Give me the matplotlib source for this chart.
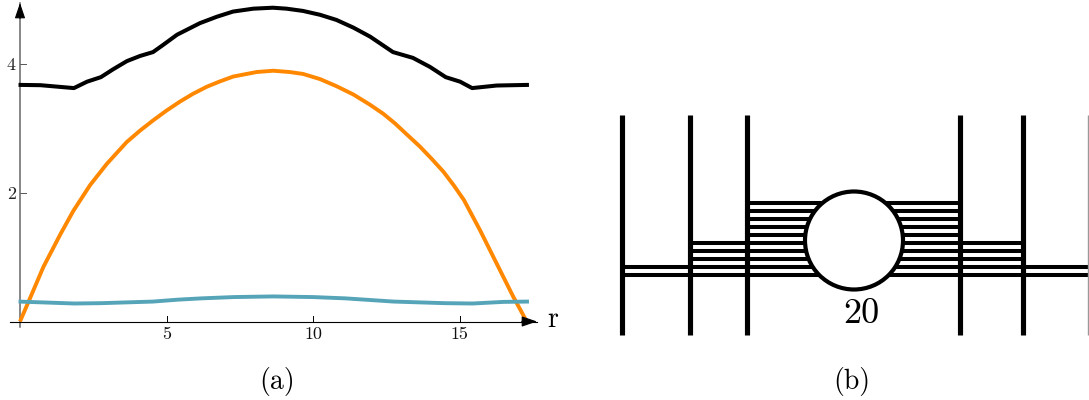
import numpy as np
import matplotlib
matplotlib.use('Agg')
import matplotlib.pyplot as plt
from matplotlib.patches import Circle

W, H = 1089, 400

# panel (a)
r_black = [-0.05, 0.7, 1.84, 2.29, 2.76, 3.17, 3.65, 4.10, 4.54, 4.88, 5.36, 6.14, 6.72, 7.27, 7.96, 8.63,
           9.1, 9.66, 10.24, 10.8, 11.38, 11.95, 12.73, 13.41, 13.99, 14.53, 15.02, 15.43, 16.27, 17.37]
y_black = [3.68, 3.675, 3.63, 3.73, 3.80, 3.92, 4.05, 4.13, 4.19, 4.30, 4.46, 4.64, 4.74, 4.82, 4.865, 4.88,
           4.865, 4.83, 4.77, 4.69, 4.57, 4.43, 4.19, 4.10, 3.96, 3.80, 3.73, 3.63, 3.67, 3.68]

r_orange = [0, 0.34, 0.80, 1.37, 1.82, 2.39, 2.96, 3.64, 4.10, 4.55, 5.0, 5.46, 5.9, 6.37, 6.8, 7.28, 8.08, 8.64,
            9.2, 9.66, 10.24, 10.8, 11.38, 11.95, 12.4, 12.8, 13.2, 13.65, 14.05, 14.45, 14.8, 15.15, 15.7, 16.27, 16.83, 17.27]
y_orange = [0, 0.36, 0.85, 1.35, 1.72, 2.12, 2.45, 2.79, 2.97, 3.13, 3.28, 3.42, 3.54, 3.65, 3.73, 3.81, 3.88, 3.90,
            3.88, 3.85, 3.77, 3.66, 3.53, 3.37, 3.23, 3.08, 2.91, 2.72, 2.53, 2.33, 2.12, 1.89, 1.42, 0.90, 0.39, 0.02]

r_teal = [-0.05, 1.85, 2.76, 4.54, 5.4, 6.2, 7.3, 8.64, 10.0, 11.1, 12.75, 14.5, 15.45, 16.5, 17.37]
y_teal = [0.31, 0.28, 0.285, 0.31, 0.34, 0.36, 0.38, 0.39, 0.38, 0.36, 0.31, 0.285, 0.28, 0.305, 0.31]

xticks = [5, 10, 15]
yticks = [2, 4]

# panel (b), diagram positions in pixels
wall_x = [622, 690, 747, 960, 1023]
wall_top, wall_bottom = 115, 335
edge_x = 1088
rows_outer = [267, 275]
rows_mid = [243, 251, 259]
rows_inner = [203, 211, 219, 227, 235]
circle_xy = (854, 240.5)
circle_r = 49
count_label = '20'

plt.rcParams['font.family'] = ['cmr10', 'DejaVu Serif']
plt.rcParams['axes.formatter.use_mathtext'] = True

fig = plt.figure(figsize=(W / 100, H / 100), dpi=100)

# left axes placed so that r=0 is at px 20, y=0 at px 321.5
x0, y0 = 20, 321.5
sx, sy = 29.3, 64.3
left, right = 10, 537
top, bottom = 3, 327
ax = fig.add_axes([left / W, 1 - bottom / H, (right - left) / W, (bottom - top) / H])
ax.set_xlim((left - x0) / sx, (right - x0) / sx)
ax.set_ylim((y0 - bottom) / sy, (y0 - top) / sy)
ax.patch.set_alpha(0)

ax.plot(r_black, y_black, color='black', lw=2.9, solid_joinstyle='round', solid_capstyle='butt', zorder=3)
ax.plot(r_orange, y_orange, color='#ff8800', lw=2.8, solid_capstyle='butt', zorder=4)
ax.plot(r_teal, y_teal, color='#55a4b8', lw=2.8, solid_capstyle='butt', zorder=5)

for s in ['top', 'right']:
    ax.spines[s].set_visible(False)
ax.spines['left'].set_position(('data', 0))
ax.spines['bottom'].set_position(('data', 0))
ax.spines['left'].set_color('#666666')
ax.spines['left'].set_linewidth(1.1)
ax.spines['bottom'].set_linewidth(0.8)
ax.set_xticks(xticks)
ax.set_yticks(yticks)
ax.set_xticklabels([str(v) for v in xticks])
ax.set_yticklabels([str(v) for v in yticks])
ax.tick_params(axis='x', direction='out', length=0, labelsize=13, pad=4, labelcolor='#111111')
ax.tick_params(axis='y', direction='out', length=0, labelsize=13, pad=3, labelcolor='#222222')
for v in xticks:
    ax.plot([v, v], [0, 0.09], color='black', lw=0.7, zorder=2)
for v in yticks:
    ax.plot([0, 0.2], [v, v], color='#555555', lw=0.7, zorder=2)

# axis arrows
head = dict(arrowstyle='-|>,head_length=0.94,head_width=0.32', color='black', lw=0.8,
            shrinkA=0, shrinkB=0, mutation_scale=10)
ax.annotate('', xy=(1, 0), xycoords=('axes fraction', 'data'), xytext=(-11, 0), textcoords='offset points',
            arrowprops=head, zorder=6)
ax.annotate('', xy=(0, 1), xycoords=('data', 'axes fraction'), xytext=(0, -11), textcoords='offset points',
            arrowprops=head, zorder=6)

# right side drawn on a pixel canvas
cv = fig.add_axes([0, 0, 1, 1])
cv.set_xlim(0, W)
cv.set_ylim(H, 0)
cv.axis('off')
cv.patch.set_alpha(0)

for y in rows_outer:
    cv.plot([wall_x[0], edge_x + 1], [y, y], color='black', lw=2.9, solid_capstyle='butt', zorder=2)
for y in rows_mid:
    cv.plot([wall_x[1], wall_x[4]], [y, y], color='black', lw=2.9, solid_capstyle='butt', zorder=2)
for y in rows_inner:
    cv.plot([wall_x[2], wall_x[3]], [y, y], color='black', lw=2.9, solid_capstyle='butt', zorder=2)
for x in wall_x:
    cv.plot([x, x], [wall_top, wall_bottom], color='black', lw=3.7, solid_capstyle='butt', zorder=3)
cv.plot([edge_x, edge_x], [wall_top, wall_bottom], color='#999999', lw=1.0, solid_capstyle='butt', zorder=3)
cv.add_patch(Circle(circle_xy, circle_r, facecolor='white', edgecolor='black', lw=3.0, zorder=4))

cv.text(861, 314, count_label, fontsize=26, ha='center', va='center', color='black')
cv.text(553, 320, 'r', fontsize=20, ha='center', va='center', color='black')
cv.text(277, 381, '(a)', fontsize=20, ha='center', va='center', color='black')
cv.text(852, 381, '(b)', fontsize=20, ha='center', va='center', color='black')

fig.savefig('out.png', dpi=100)
